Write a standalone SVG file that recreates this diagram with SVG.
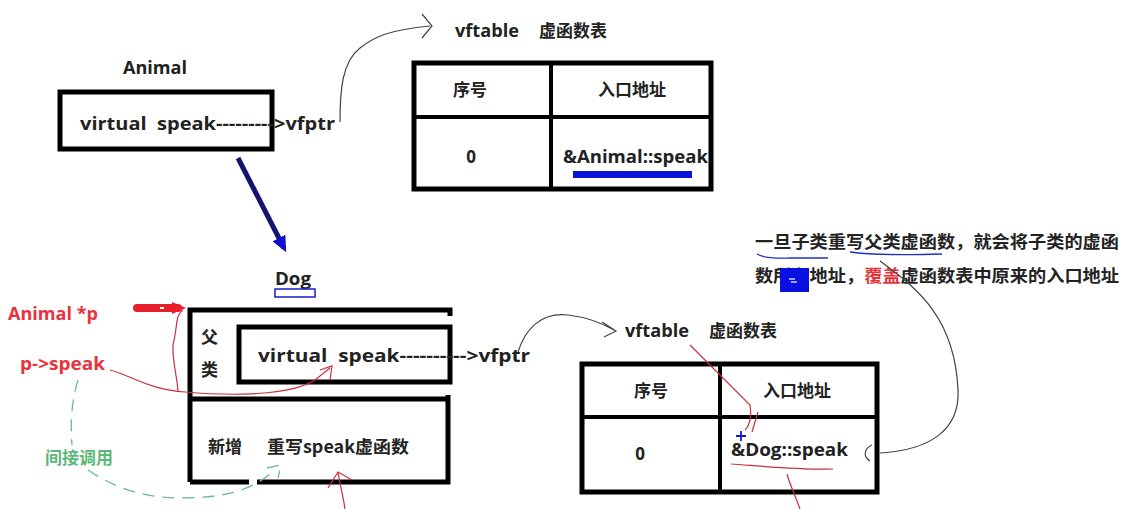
<svg xmlns="http://www.w3.org/2000/svg" width="1130" height="509" viewBox="0 0 1130 509">
<style>
.t{font-family:"Open Sans","Noto Sans CJK SC",sans-serif;font-weight:bold;font-size:17px;fill:#222}
.c{font-family:"Noto Sans CJK SC",sans-serif;font-weight:bold;font-size:17px;fill:#222}
.box{fill:none;stroke:#000;stroke-width:5}
.pen{fill:none;stroke:#444;stroke-width:1.2}
.red{fill:none;stroke:#c8303c;stroke-width:1.2}
.rt{fill:#e8323c}
.grn{fill:none;stroke:#6ab89a;stroke-width:1.3;stroke-dasharray:12 8}
</style>
<defs>
<marker id="blueHead" viewBox="0 0 10 10" refX="7" refY="5" markerWidth="3.2" markerHeight="3.2" orient="auto"><path d="M0,0.5 L10,5 L0,9.5 z" fill="#1010d0"/></marker>
</defs>
<rect width="1130" height="509" fill="#fff"/>

<g id="animal">
<text class="t" x="123" y="74" textLength="64" lengthAdjust="spacingAndGlyphs">Animal</text>
<rect class="box" x="60" y="92" width="212" height="57"/>
<text class="t" x="80" y="130" xml:space="preserve" textLength="255" lengthAdjust="spacingAndGlyphs">virtual  speak--------->vfptr</text>
</g>

<g id="vftable1">
<text class="t" x="455" y="37" textLength="64" lengthAdjust="spacingAndGlyphs">vftable</text>
<text class="c" x="539" y="37">虚函数表</text>
<rect class="box" x="414" y="63" width="297" height="126"/>
<line x1="551" y1="63" x2="551" y2="189" stroke="#000" stroke-width="4"/>
<line x1="414" y1="117" x2="711" y2="117" stroke="#000" stroke-width="4"/>
<text class="c" x="470" y="96" text-anchor="middle">序号</text>
<text class="c" x="632" y="96" text-anchor="middle">入口地址</text>
<text class="t" x="471" y="163" text-anchor="middle">0</text>
<text class="t" x="563" y="163" textLength="145" lengthAdjust="spacingAndGlyphs">&amp;Animal::speak</text>
<rect x="573" y="171" width="119" height="7" fill="#0a14d8"/>
</g>

<g id="dog">
<text class="t" x="275" y="285" textLength="36" lengthAdjust="spacingAndGlyphs">Dog</text>
<rect x="275" y="289" width="40" height="8" fill="none" stroke="#1a1ad0" stroke-width="1.5"/>
<path d="M190,482 V310 H450 V316" class="box"/>
<rect class="box" x="239" y="327" width="211" height="55"/>
<text class="c" x="201" y="343">父</text>
<text class="c" x="201" y="376">类</text>
<text class="t" x="258" y="362" xml:space="preserve" textLength="272" lengthAdjust="spacingAndGlyphs">virtual  speak---------->vfptr</text>
<path d="M190,399 H448 M448,395 V482 H257 M249,482 H190" class="box"/>
<text class="c" x="208" y="453">新增</text>
<text class="c" x="267" y="453" textLength="142" lengthAdjust="spacingAndGlyphs">重写speak虚函数</text>
</g>

<g id="vftable2">
<text class="t" x="625" y="337" textLength="64" lengthAdjust="spacingAndGlyphs">vftable</text>
<text class="c" x="709" y="337">虚函数表</text>
<rect class="box" x="582" y="364" width="295" height="128"/>
<line x1="720" y1="364" x2="720" y2="492" stroke="#000" stroke-width="4"/>
<line x1="582" y1="417" x2="877" y2="417" stroke="#000" stroke-width="4"/>
<text class="c" x="651" y="397" text-anchor="middle">序号</text>
<text class="c" x="797" y="397" text-anchor="middle">入口地址</text>
<text class="t" x="640" y="460" text-anchor="middle">0</text>
<text class="t" x="731" y="456" textLength="117" lengthAdjust="spacingAndGlyphs">&amp;Dog::speak</text>
<path d="M736,436 H746 M741,431 V441" stroke="#1a1ad0" stroke-width="1.8"/>
</g>

<g id="note">
<text class="c" x="755" y="248" textLength="364" lengthAdjust="spacingAndGlyphs">一旦子类重写父类虚函数，就会将子类的虚函</text>
<text class="c" x="755" y="282" textLength="364" lengthAdjust="spacingAndGlyphs">数所在地址，<tspan class="rt">覆盖</tspan>虚函数表中原来的入口地址</text>
<rect x="780" y="268" width="29" height="24" fill="#0a10e0"/>
<path d="M789,279 h6 M791,282 h6" stroke="#cfd4ff" stroke-width="1.5"/>
<path d="M757,254 Q765,259 790,258 L828,258" fill="none" stroke="#2030c0" stroke-width="1.3"/>
<path d="M850,252 Q880,256 942,254" fill="none" stroke="#2030c0" stroke-width="1.3"/>
</g>

<g id="labels">
<text class="t" x="8" y="320" textLength="90" lengthAdjust="spacingAndGlyphs" style="fill:#e8323c">Animal *p</text>
<text class="t" x="20" y="370" textLength="85" lengthAdjust="spacingAndGlyphs" style="fill:#e8323c">p-&gt;speak</text>
<text class="c" x="45" y="464" font-size="16" style="fill:#5cb878">间接调用</text>
</g>

<g id="connectors">
<line x1="238" y1="158" x2="284" y2="248" stroke="#14146e" stroke-width="5" marker-end="url(#blueHead)"/>
<path class="pen" d="M340,122 C340,90 342,62 360,48 C375,36 390,30 430,26 M422,14 L432,26 L422,38"/>
<path class="pen" d="M518,352 C525,330 540,312 568,315 C585,317 600,322 614,330 M602,322 L616,331 L604,337"/>
<path class="pen" d="M880,261 C920,290 955,320 958,390 C960,430 930,450 880,453 M872,445 C865,448 862,456 870,461"/>
<path d="M137,308 L178,308" stroke="#e8202c" stroke-width="8" stroke-linecap="round"/>
<path d="M172,302 L186,308 L172,314 z" fill="#e8202c"/>
<rect x="160" y="307" width="4" height="2" fill="#fff"/>
<path class="red" d="M183,310 C175,315 178,325 173,345 C172,360 177,375 178,392"/>
<path class="red" d="M110,370 C130,375 150,390 185,392 C230,396 290,396 315,380 L330,368 M320,370 L332,366 L330,380"/>
<path class="grn" d="M78,380 C72,400 70,420 72,445"/>
<path class="grn" d="M88,470 C110,485 140,498 180,498 C230,498 255,488 275,470 M267,468 L281,465 L278,478"/>
<path class="red" d="M345,509 C343,495 340,485 338,472 M328,488 L338,472 L352,480"/>
<path class="red" d="M690,345 C710,365 730,385 750,405 C752,415 750,425 745,430 M758,412 L752,432"/>
<path class="red" d="M731,464 C760,466 800,470 833,469 M787,474 C790,485 795,495 800,509"/>
</g>
</svg>
